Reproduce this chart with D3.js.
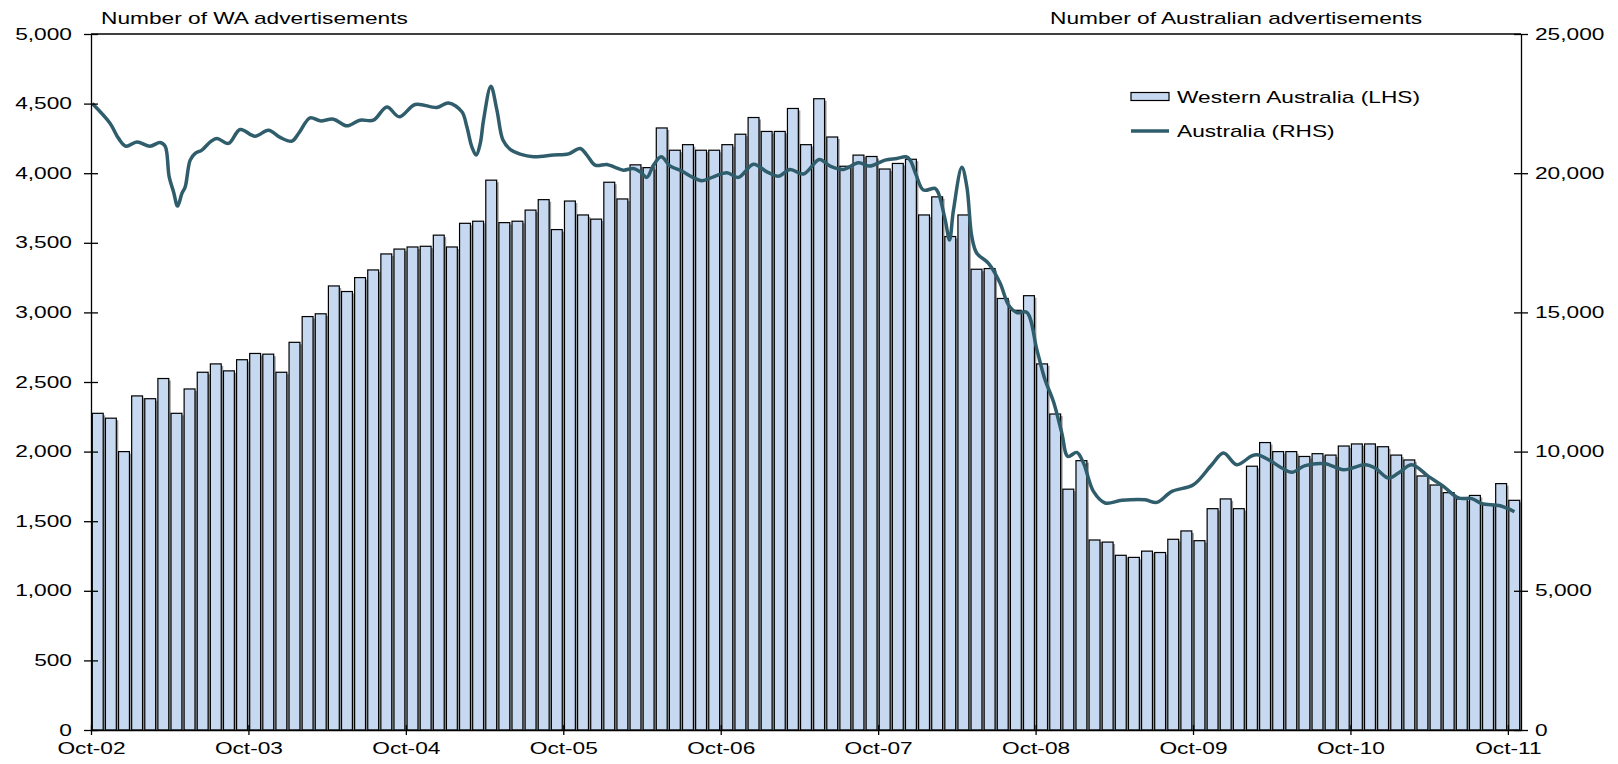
<!DOCTYPE html>
<meta charset="utf-8">
<style>
  body { margin: 0; background: #fff; }
  svg { display: block; }
  text { font-family: "Liberation Sans", Arial, sans-serif; font-size: 16px; fill: #000; }
  .axis path, .axis line { stroke: #000; stroke-width: 1.3px; }
  .frame { stroke: #000; stroke-width: 1.3px; }
  .bar { fill: #c6d9f1; stroke: #000; stroke-width: 1.2px; }
  .shadow { fill: #9c9c9c; }
  .aus-line { fill: none; stroke: #2f5d6b; stroke-width: 3.5px; stroke-linejoin: round; }
</style>
<body>
<script src="https://d3js.org/d3.v7.min.js"></script>
<script>
// x axis tick labels, one per October
var tickLabels = ["Oct-02", "Oct-03", "Oct-04", "Oct-05", "Oct-06", "Oct-07", "Oct-08", "Oct-09", "Oct-10", "Oct-11"];

// Western Australia, monthly, Oct-02 .. Oct-11 (LHS)
var waValues = [
  2275, 2240, 2000, 2400, 2380, 2525, 2275, 2450, 2570, 2630, 2580, 2660, 2705, 2700, 2570, 2785, 2970, 2990,
  3190, 3150, 3250, 3305, 3420, 3455, 3470, 3475, 3555, 3470, 3640, 3655, 3950, 3645, 3655, 3735, 3810, 3595,
  3800, 3700, 3670, 3935, 3815, 4060, 4040, 4325, 4165, 4205, 4165, 4165, 4205, 4280, 4400, 4300, 4300, 4465,
  4205, 4535, 4260, 4050, 4130, 4120, 4030, 4070, 4100, 3700, 3830, 3545, 3700, 3310, 3315, 3100, 3015, 3120,
  2630, 2270, 1730, 1935, 1365, 1350, 1255, 1240, 1285, 1275, 1370, 1430, 1360, 1590, 1660, 1590, 1895, 2065,
  2000, 2000, 1965, 1985, 1975, 2040, 2055, 2055, 2035, 1975, 1940, 1825, 1760, 1705, 1660, 1685, 1620, 1770, 1650
];

// Australia (RHS): position in months from the start of Oct-02, and value
var ausPos = [
  0.1, 1.46, 2.1, 2.66, 3.5, 4.5, 5.27, 5.65, 5.96, 6.29, 6.6, 6.93, 7.18, 7.56, 7.94, 8.45, 9.09, 9.6,
  10.48, 11.37, 12.5, 13.53, 14.42, 15.31, 15.82, 16.7, 17.47, 18.48, 19.5, 20.5, 21.53, 22.55, 23.5, 24.71,
  26.36, 27.25, 28.27, 28.65, 29.03, 29.36, 29.67, 29.92, 30.48, 30.94, 31.4, 31.95, 32.71, 33.73, 35.25,
  36.4, 37.29, 37.8, 38.43, 39.32, 39.95, 40.59, 41.35, 41.86, 42.37, 42.88, 43.46, 44.15, 45.04, 45.8,
  46.56, 47.45, 48.47, 49.35, 50.5, 51.52, 52.4, 53.29, 54.31, 55.52, 56.34, 57.35, 58.5, 59.34, 60.53,
  61.42, 62.13, 62.44, 62.9, 63.45, 64.34, 64.6, 65.11, 65.44, 65.74, 66.38, 66.76, 67.14, 67.52, 68.41,
  69.3, 69.93, 70.57, 71.33, 72.1, 72.72, 73.36, 74.0, 74.46, 75.14, 75.65, 76.41, 77.3, 78.57, 80.35,
  81.24, 82.39, 84.03, 85.43, 86.32, 87.34, 88.48, 88.9, 89.75, 90.77, 91.53, 92.55, 94.07, 95.47, 97.12,
  97.88, 98.9, 99.66, 100.68, 101.94, 103.09, 104.23, 105.25, 106.01, 107.41, 108.5
];
var ausValues = [
  22500, 21785, 21250, 20970, 21125, 20970, 21105, 20970, 19870, 19335, 18820, 19275, 19510, 20470, 20710, 20830, 21125, 21250,
  21070, 21570, 21330, 21545, 21285, 21150, 21425, 21990, 21880, 21940, 21700, 21905, 21905, 22380, 22025, 22470,
  22360, 22525, 22205, 21665, 20945, 20650, 21070, 21905, 23125, 22265, 21190, 20855, 20685, 20590, 20650,
  20695, 20890, 20650, 20290, 20315, 20210, 20110, 20170, 20050, 19850, 20290, 20590, 20255, 20075, 19870,
  19730, 19870, 20015, 19850, 20325, 20050, 19895, 20135, 19970, 20495, 20255, 20135, 20375, 20255, 20470,
  20530, 20590, 20470, 19930, 19395, 19455, 19275, 18320, 17600, 18675, 20210, 19515, 17720, 17125, 16765,
  16050, 15270, 14995, 15000, 13655, 12580, 11800, 10665, 9825, 9970, 9590, 8570, 8155, 8250, 8270,
  8175, 8570, 8810, 9530, 9950, 9530, 9850, 9885, 9710, 9410, 9255, 9495, 9565, 9350, 9530,
  9410, 9050, 9230, 9530, 9110, 8750, 8335, 8310, 8130, 8055, 7840
];

var leftTicks = [0, 500, 1000, 1500, 2000, 2500, 3000, 3500, 4000, 4500, 5000];
var rightTicks = [0, 5000, 10000, 15000, 20000, 25000];

var W = 1618, H = 764;
var margin = {top: 34, right: 97, bottom: 34, left: 91};
var w = W - margin.left - margin.right,
    h = H - margin.top - margin.bottom;
var sx = 1.42; // the original text is stretched sideways

var svg = d3.select("body").append("svg")
    .attr("width", W)
    .attr("height", H);

var chart = svg.append("g")
    .attr("transform", "translate(" + margin.left + "," + margin.top + ")");

var months = d3.range(waValues.length);

var xband = d3.scaleBand()
    .domain(months)
    .range([0, w])
    .paddingInner(0.17)
    .paddingOuter(0.1);

var xpos = d3.scaleLinear()
    .domain([0, months.length])
    .range([0, w]);

var yL = d3.scaleLinear().domain([0, 5000]).range([h, 0]);
var yR = d3.scaleLinear().domain([0, 25000]).range([h, 0]);

// bars with a little grey shadow on the right
chart.selectAll("rect.shadow")
    .data(waValues)
    .enter().append("rect")
    .attr("class", "shadow")
    .attr("x", function(d, i) { return xband(i) + 2; })
    .attr("y", function(d) { return yL(d) + 2; })
    .attr("width", xband.bandwidth())
    .attr("height", function(d) { return h - yL(d) - 2; });

chart.selectAll("rect.bar")
    .data(waValues)
    .enter().append("rect")
    .attr("class", "bar")
    .attr("x", function(d, i) { return xband(i); })
    .attr("y", function(d) { return yL(d); })
    .attr("width", xband.bandwidth())
    .attr("height", function(d) { return h - yL(d); });

// Australia line
var ausData = ausPos.map(function(p, i) { return {p: p, v: ausValues[i]}; });
var line = d3.line()
    .x(function(d) { return xpos(d.p); })
    .y(function(d) { return yR(d.v); })
    .curve(d3.curveCatmullRom.alpha(0.5));

chart.append("path")
    .datum(ausData)
    .attr("class", "aus-line")
    .attr("d", line);

// top border of the plot
chart.append("line")
    .attr("class", "frame")
    .attr("x1", 0).attr("x2", w)
    .attr("y1", 0).attr("y2", 0);

// axes
var xaxis = d3.axisBottom(xpos)
    .tickValues(tickLabels.map(function(d, i) { return i * 12; }))
    .tickFormat(function(d, i) { return tickLabels[i]; })
    .tickSizeOuter(0);

var gx = chart.append("g")
    .attr("class", "axis")
    .attr("transform", "translate(0," + h + ")")
    .call(xaxis);
gx.selectAll(".tick line").attr("y1", -5).attr("y2", 5);
gx.selectAll(".tick text")
    .attr("y", null)
    .attr("transform", "translate(0,12.5) scale(" + sx + ",1)");

var yaxisL = d3.axisLeft(yL)
    .tickValues(leftTicks)
    .tickFormat(d3.format(","))
    .tickSizeOuter(0);

var gl = chart.append("g")
    .attr("class", "axis")
    .call(yaxisL);
gl.selectAll(".tick line").attr("x1", -7).attr("x2", 7);
gl.selectAll(".tick text")
    .attr("x", null)
    .attr("transform", "translate(-19,0) scale(" + sx + ",1)");

var yaxisR = d3.axisRight(yR)
    .tickValues(rightTicks)
    .tickFormat(d3.format(","))
    .tickSizeOuter(0);

var gr = chart.append("g")
    .attr("class", "axis")
    .attr("transform", "translate(" + w + ",0)")
    .call(yaxisR);
gr.selectAll(".tick line").attr("x1", -7).attr("x2", 7);
gr.selectAll(".tick text")
    .attr("x", null)
    .attr("transform", "translate(14,0) scale(" + sx + ",1)");

// axis titles
svg.append("text")
    .attr("transform", "translate(101,24) scale(" + sx + ",1)")
    .text("Number of WA advertisements");
svg.append("text")
    .attr("transform", "translate(1050,24) scale(" + sx + ",1)")
    .text("Number of Australian advertisements");

// legend
var legend = svg.append("g");
legend.append("rect")
    .attr("class", "bar")
    .attr("x", 1131).attr("y", 92.5)
    .attr("width", 38).attr("height", 8);
legend.append("text")
    .attr("transform", "translate(1177,102.5) scale(" + sx + ",1)")
    .text("Western Australia (LHS)");
legend.append("line")
    .attr("class", "aus-line")
    .attr("x1", 1131).attr("x2", 1169)
    .attr("y1", 131).attr("y2", 131);
legend.append("text")
    .attr("transform", "translate(1177,137) scale(" + sx + ",1)")
    .text("Australia (RHS)");
</script>
</body>
